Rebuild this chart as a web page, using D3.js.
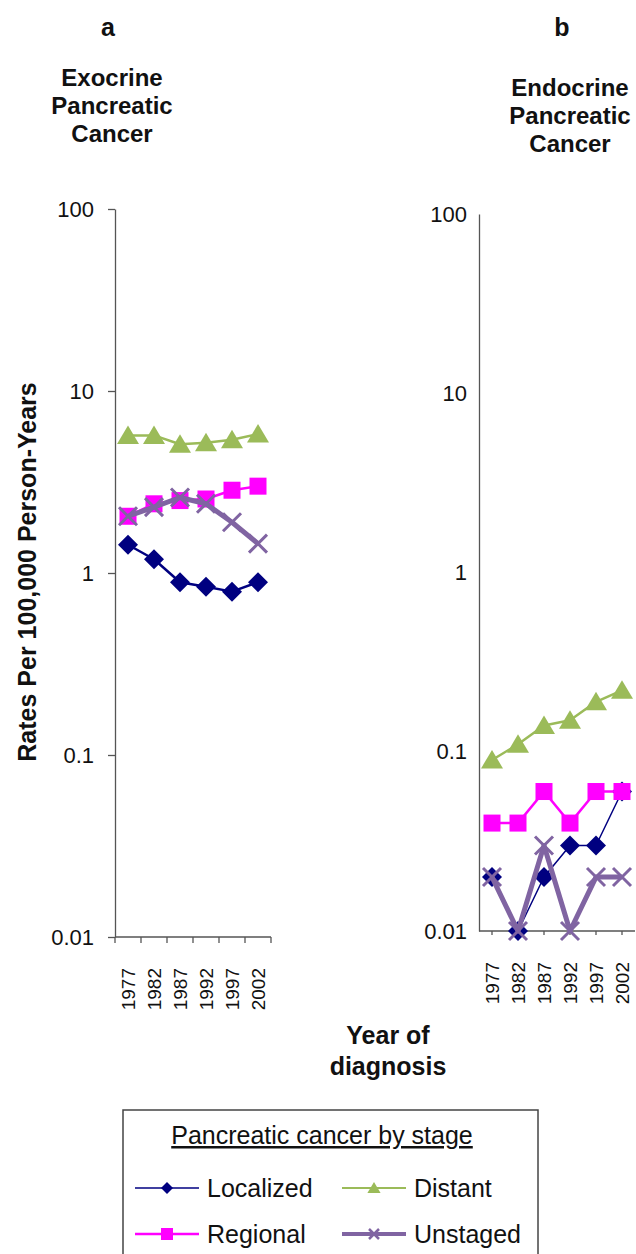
<!DOCTYPE html>
<html>
<head>
<meta charset="utf-8">
<script src="https://cdn.jsdelivr.net/npm/d3@7"></script>
<style>
  body { margin: 0; background: #fff; }
  svg { display: block; font-family: "Liberation Sans", Arial, sans-serif; }
</style>
</head>
<body>
<script>
// data
const years = ['1977', '1982', '1987', '1992', '1997', '2002'];
const yTicks = [0.01, 0.1, 1, 10, 100];

// a: exocrine
const exoLocalized = [1.43, 1.19, 0.89, 0.84, 0.79, 0.89];
const exoRegional  = [2.05, 2.4, 2.5, 2.55, 2.85, 3.0];
const exoDistant   = [5.7, 5.7, 5.1, 5.2, 5.4, 5.8];
const exoUnstaged  = [2.05, 2.3, 2.6, 2.4, 1.9, 1.45];

// b: endocrine
const endoLocalized = [0.02, 0.01, 0.02, 0.03, 0.03, 0.06];
const endoRegional  = [0.04, 0.04, 0.06, 0.04, 0.06, 0.06];
const endoDistant   = [0.09, 0.11, 0.14, 0.15, 0.19, 0.22];
const endoUnstaged  = [0.02, 0.01, 0.03, 0.01, 0.02, 0.02];

const stages = ['Localized', 'Regional', 'Distant', 'Unstaged'];
const colors = {Localized: '#000080', Regional: '#ff00ff', Distant: '#9bbb59', Unstaged: '#8064a2'};
const shapes = {Localized: 'diamond', Regional: 'square', Distant: 'triangle', Unstaged: 'cross'};

const width = 636, height = 1254;
const svg = d3.select('body').append('svg')
  .attr('width', width)
  .attr('height', height);

// marker drawing
function marker(g, shape, color, s, sw) {
  if (shape === 'diamond') {
    g.append('path').attr('d', `M0,${-s}L${s},0L0,${s}L${-s},0Z`).attr('fill', color);
  } else if (shape === 'square') {
    g.append('rect').attr('x', -s).attr('y', -s).attr('width', 2 * s).attr('height', 2 * s).attr('fill', color);
  } else if (shape === 'triangle') {
    g.append('path').attr('d', `M0,${-s}L${s * 1.1},${s * 0.85}L${-s * 1.1},${s * 0.85}Z`).attr('fill', color);
  } else {
    g.append('path').attr('d', `M${-s},${-s}L${s},${s}M${-s},${s}L${s},${-s}`)
      .attr('stroke', color).attr('stroke-width', sw || 2.5).attr('fill', 'none');
  }
}

const markerSize = {Localized: 10, Regional: 8.5, Distant: 10, Unstaged: 9};

function drawPanel(p) {
  const x = d3.scaleBand().domain(years).range([p.left, p.left + 156]);
  const y = d3.scaleLog().domain([0.01, 100]).range([p.bottom, p.top]);

  // y axis
  const yAxis = d3.axisLeft(y).tickValues(yTicks)
    .tickFormat(d => d >= 1 ? d3.format('d')(d) : String(d))
    .tickSize(p.yTick).tickSizeOuter(0).tickPadding(p.yPad);
  const gy = svg.append('g').attr('transform', `translate(${p.left},0)`).call(yAxis);
  gy.select('.domain').attr('stroke', '#555').attr('stroke-width', 1.3);
  gy.selectAll('.tick line').attr('stroke', '#555').attr('stroke-width', 1.3);
  gy.selectAll('text').attr('fill', '#111')
    .style('font-size', '22px')
    .style('font-family', '"Liberation Sans", Arial, sans-serif');

  // x axis
  const gx = svg.append('g').attr('transform', `translate(0,${p.bottom})`);
  gx.append('line').attr('x1', p.left).attr('x2', p.left + 156)
    .attr('stroke', '#555').attr('stroke-width', 1.3);
  const tickXs = p.between
    ? years.map(d => x(d)).concat([x.range()[1]])
    : years.map(d => x(d) + x.bandwidth() / 2);
  gx.selectAll('line.tk').data(tickXs).join('line').attr('class', 'tk')
    .attr('x1', d => d).attr('x2', d => d).attr('y1', 0).attr('y2', p.xTick)
    .attr('stroke', '#555').attr('stroke-width', 1.3);
  gx.selectAll('text').data(years).join('text')
    .attr('transform', d => `translate(${x(d) + x.bandwidth() / 2 + 7},${p.xLab}) rotate(-90)`)
    .attr('text-anchor', 'end')
    .style('font-size', '19px').attr('fill', '#111')
    .text(d => d);

  const line = d3.line().x((d, i) => x(years[i]) + x.bandwidth() / 2).y(d => y(d));

  stages.forEach(st => {
    const vals = p.series[st];
    svg.append('path').datum(vals)
      .attr('d', line)
      .attr('fill', 'none')
      .attr('stroke', colors[st])
      .attr('stroke-width', p.widths[st])
      .attr('stroke-linejoin', 'round');
    vals.forEach((v, i) => {
      const g = svg.append('g')
        .attr('transform', `translate(${x(years[i]) + x.bandwidth() / 2},${y(v)})`);
      marker(g, shapes[st], colors[st], markerSize[st], 3);
    });
  });
}

drawPanel({
  left: 115, top: 209, bottom: 937, yTick: 7, yPad: 14, xTick: 6, xLab: 31, between: true,
  series: {Localized: exoLocalized, Regional: exoRegional, Distant: exoDistant, Unstaged: exoUnstaged},
  widths: {Localized: 2.5, Regional: 2.5, Distant: 2.5, Unstaged: 5}
});

drawPanel({
  left: 479, top: 214, bottom: 931, yTick: 0, yPad: 12, xTick: 4, xLab: 31, between: false,
  series: {Localized: endoLocalized, Regional: endoRegional, Distant: endoDistant, Unstaged: endoUnstaged},
  widths: {Localized: 1.5, Regional: 2.5, Distant: 2.5, Unstaged: 5}
});

// titles
function bold(txt, x, y, size) {
  svg.append('text').attr('x', x).attr('y', y)
    .attr('text-anchor', 'middle').attr('font-weight', 'bold')
    .attr('font-size', size).attr('fill', '#111').text(txt);
}
bold('a', 108, 36, 25);
bold('b', 562, 36, 25);
['Exocrine', 'Pancreatic', 'Cancer'].forEach((t, i) => bold(t, 112, 86 + i * 28, 24));
['Endocrine', 'Pancreatic', 'Cancer'].forEach((t, i) => bold(t, 570, 96 + i * 28, 24));
bold('Year of', 388, 1044, 25);
bold('diagnosis', 388, 1075, 25);

svg.append('text')
  .attr('transform', 'translate(36,572) rotate(-90)')
  .attr('text-anchor', 'middle').attr('font-weight', 'bold')
  .attr('font-size', 25).attr('fill', '#111')
  .text('Rates Per 100,000 Person-Years');

// legend
const lg = svg.append('g');
lg.append('rect').attr('x', 123).attr('y', 1110).attr('width', 415).attr('height', 160)
  .attr('fill', 'none').attr('stroke', '#444').attr('stroke-width', 1.5);
lg.append('text').attr('x', 322).attr('y', 1144).attr('text-anchor', 'middle')
  .attr('font-size', 25).attr('fill', '#111')
  .attr('text-decoration', 'underline')
  .text('Pancreatic cancer by stage');

const legendPos = {
  Localized: [135, 1188], Distant: [342, 1188],
  Regional: [135, 1234], Unstaged: [342, 1234]
};
const legendWidths = {Localized: 1.5, Regional: 2.5, Distant: 2, Unstaged: 4};
stages.forEach(st => {
  const [lx, ly] = legendPos[st];
  lg.append('line').attr('x1', lx).attr('x2', lx + 64).attr('y1', ly).attr('y2', ly)
    .attr('stroke', colors[st]).attr('stroke-width', legendWidths[st]);
  const g = lg.append('g').attr('transform', `translate(${lx + 32},${ly})`);
  marker(g, shapes[st], colors[st], st === 'Unstaged' ? 5 : 6, 2.5);
  lg.append('text').attr('x', lx + 72).attr('y', ly + 9)
    .attr('font-size', 25).attr('fill', '#111').text(st);
});
</script>
</body>
</html>
